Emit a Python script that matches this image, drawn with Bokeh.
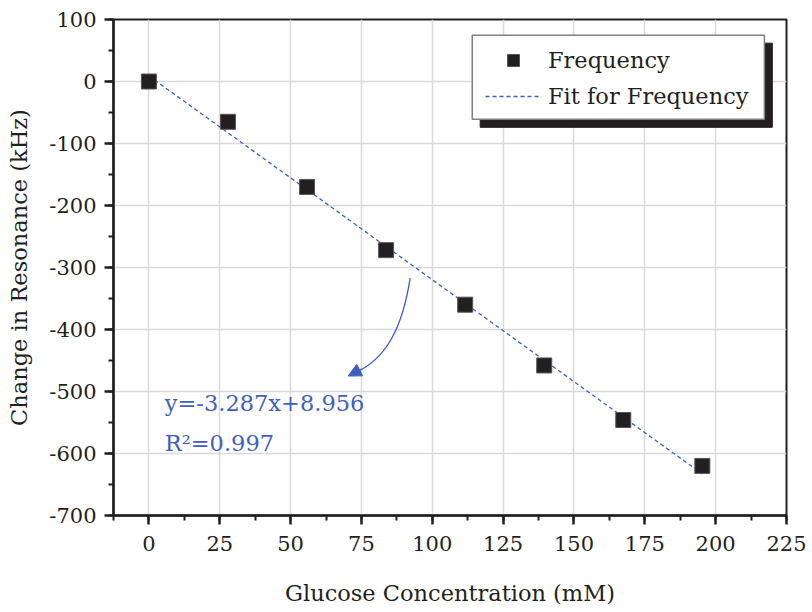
from bokeh.plotting import figure
from bokeh.models import (Range1d, SingleIntervalTicker, Legend, LegendItem,
                          Arrow, NormalHead, CustomJSTickFormatter)
from bokeh.core.properties import value
from bokeh.embed import file_html
from bokeh.resources import INLINE

# ---- data ----
glucose_mM = [0, 27.9, 55.8, 83.7, 111.6, 139.5, 167.4, 195.3]
freq_change_kHz = [0, -65, -170, -272, -360, -458, -546, -620]
fit_slope = -3.287
fit_intercept = 8.956
r_squared = 0.997
x_ticks_interval = 25
y_ticks_interval = 100

FONT = "DejaVu Serif"
BLUE = "#3f5fbf"
INK = "#231f20"

p = figure(width=812, height=612, output_backend="svg", toolbar_location=None,
           x_range=Range1d(-12.5, 225), y_range=Range1d(-700, 100),
           min_border_left=113, min_border_right=26, min_border_top=19,
           min_border_bottom=97)
p.background_fill_color = "white"
p.border_fill_color = "white"
p.outline_line_color = INK
p.outline_line_width = 2

p.xaxis.ticker = SingleIntervalTicker(interval=x_ticks_interval, num_minor_ticks=2)
p.yaxis.ticker = SingleIntervalTicker(interval=y_ticks_interval, num_minor_ticks=2)

for ax in (p.xaxis[0], p.yaxis[0]):
    ax.formatter = CustomJSTickFormatter(code="return tick.toFixed(0);")
    ax.axis_line_color = INK
    ax.axis_line_width = 2.5
    ax.major_tick_line_color = INK
    ax.major_tick_line_width = 2.5
    ax.minor_tick_line_color = INK
    ax.minor_tick_line_width = 2
    ax.major_tick_out = 9
    ax.major_tick_in = 0
    ax.minor_tick_out = 5
    ax.minor_tick_in = 0
    ax.major_label_text_font = FONT
    ax.major_label_text_font_size = "21px"
    ax.major_label_text_color = INK
    ax.axis_label_text_font = FONT
    ax.axis_label_text_font_size = "22.5px"
    ax.axis_label_text_font_style = "normal"
    ax.axis_label_text_color = INK

p.xaxis.axis_label = "Glucose Concentration (mM)"
p.yaxis.axis_label = "Change in Resonance (kHz)"
p.xaxis.major_label_standoff = 11
p.xaxis.axis_label_standoff = 26
p.yaxis.major_label_standoff = 8
p.yaxis.axis_label_standoff = 14

p.xgrid.grid_line_color = "#d9d9d9"
p.ygrid.grid_line_color = "#d9d9d9"
p.xgrid.grid_line_width = 1.5
p.ygrid.grid_line_width = 1.5

# fit line
fit_x = [glucose_mM[0], glucose_mM[-1]]
fit_y = [fit_slope * v + fit_intercept for v in fit_x]
fit_r = p.line(fit_x, fit_y, line_color=BLUE, line_width=1.3, line_dash="4 3")

# data points
pts_r = p.scatter(glucose_mM, freq_change_kHz, marker="square", size=15,
                  fill_color=INK, line_color="#555555", line_width=1)

# legend shadow and box
p.quad(left=[116.9], right=[220.0], top=[61.8], bottom=[-73.9],
       fill_color=INK, line_color=INK)
p.quad(left=[114.1], right=[217.2], top=[74.7], bottom=[-60.8],
       fill_color="white", line_color="#808080", line_width=1.5)

legend = Legend(items=[LegendItem(label="Frequency", renderers=[pts_r]),
                       LegendItem(label="Fit for Frequency", renderers=[fit_r])],
                location=(372, 404), orientation="vertical")
legend.background_fill_alpha = 0
legend.border_line_alpha = 0
legend.padding = 0
legend.margin = 0
legend.spacing = 6
legend.glyph_width = 56
legend.glyph_height = 30
legend.label_height = 30
legend.label_standoff = 7
legend.label_text_font = FONT
legend.label_text_font_size = "22.5px"
legend.label_text_color = INK
p.add_layout(legend, "center")

# fit equation annotation
p.text(x=[5.6, 5.6], y=[-518, -583],
       text=[f"y={fit_slope}x+{fit_intercept}", f"R\u00b2={r_squared}"],
       text_font=value(FONT), text_font_size="22.5px", text_color=BLUE,
       text_baseline="alphabetic")

# curved arrow
p.bezier(x0=[92.2], y0=[-317], x1=[72.5], y1=[-470],
         cx0=[89.5], cy0=[-395], cx1=[84], cy1=[-448],
         line_color=BLUE, line_width=1.3)
p.add_layout(Arrow(end=NormalHead(size=13, fill_color=BLUE, line_color=BLUE),
                   x_start=75.0, y_start=-464, x_end=70.3, y_end=-475,
                   line_color=BLUE, line_width=1.3))

open("out.html", "w").write(file_html(p, INLINE))
